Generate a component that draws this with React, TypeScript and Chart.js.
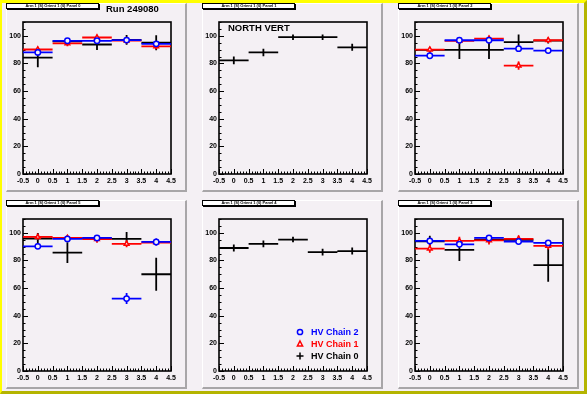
import React, { useEffect, useRef } from "react";
import { Chart, registerables } from "chart.js";
Chart.register(...registerables);

// ---------- data ----------
const BIN_CENTERS = [0, 1, 2, 3, 4];
const BIN_HALF_WIDTH = 0.5;
const X_TICKS = [-0.5, 0, 0.5, 1, 1.5, 2, 2.5, 3, 3.5, 4, 4.5];
const X_TICK_LABELS = ["-0.5", "0", "0.5", "1", "1.5", "2", "2.5", "3", "3.5", "4", "4.5"];
const X_MINOR_STEP = 0.1;
const Y_TICKS = [0, 20, 40, 60, 80, 100];
const Y_TICK_LABELS = ["0", "20", "40", "60", "80", "100"];
const Y_MINOR_STEP = 5;
const Y_MAX = 110;

const CHAIN_LABELS = ["HV Chain 2", "HV Chain 1", "HV Chain 0"];
const CHAIN_COLORS = ["#0000ff", "#ff0000", "#000000"];
const CHAIN_MARKERS = ["circle", "triangle", "none"];

const PANEL_TITLES = [
  "Arm 1 (S) Orient 1 (0) Panel 0",
  "Arm 1 (S) Orient 1 (0) Panel 1",
  "Arm 1 (S) Orient 1 (0) Panel 2",
  "Arm 1 (S) Orient 1 (0) Panel 5",
  "Arm 1 (S) Orient 1 (0) Panel 4",
  "Arm 1 (S) Orient 1 (0) Panel 3",
];

// Panel 0
const p0Chain2 = [88.0, 96.4, 96.4, 96.9, 94.2];
const p0Chain2Err = [2, 2, 2, 2, 2];
const p0Chain1 = [90.1, 94.5, 98.8, 96.5, 92.3];
const p0Chain1Err = [2, 2, 2, 2, 2];
const p0Chain0 = [84.2, 96.0, 93.7, 97.1, 95.0];
const p0Chain0Err = [7, 2, 4, 3.5, 5.5];

// Panel 1
const p1Chain0 = [82.2, 88.0, 99.0, 99.0, 91.7];
const p1Chain0Err = [2.8, 2.7, 2, 2, 2.5];

// Panel 2
const p2Chain2 = [85.6, 96.8, 96.8, 90.7, 89.3];
const p2Chain2Err = [2, 2, 2, 2, 2];
const p2Chain1 = [90.0, 96.3, 98.0, 78.5, 96.8];
const p2Chain1Err = [2, 2, 2, 3, 2];
const p2Chain0 = [89.8, 89.8, 89.8, 95.4, 96.5];
const p2Chain0Err = [2, 6.5, 6.5, 5.5, 2];

// Panel 5
const p5Chain2 = [90.2, 95.6, 96.3, 52.4, 93.4];
const p5Chain2Err = [2, 2, 2, 4, 2.5];
const p5Chain1 = [97.0, 96.3, 95.4, 92.0, 93.0];
const p5Chain1Err = [2, 2, 2.5, 2.5, 2];
const p5Chain0 = [95.9, 85.6, 96.0, 95.6, 70.0];
const p5Chain0Err = [4, 7.5, 2, 5, 12];

// Panel 4
const p4Chain0 = [89.0, 92.0, 95.1, 86.0, 86.8];
const p4Chain0Err = [2.5, 2.5, 2, 2.5, 2.5];

// Panel 3
const p3Chain2 = [94.1, 91.7, 96.3, 93.7, 92.7];
const p3Chain2Err = [2, 2, 2, 2, 2];
const p3Chain1 = [88.5, 94.1, 94.6, 95.6, 90.5];
const p3Chain1Err = [3, 3, 3, 2.5, 2.5];
const p3Chain0 = [93.9, 87.6, 95.0, 95.0, 76.6];
const p3Chain0Err = [4, 8, 2, 2, 12];

// ---------- style ----------
const BG = "#f4f0f4";
const FONT = "'Liberation Sans', Arial, sans-serif";
const PAD_W = 181;
const PAD_H = 189;
const AREA_LEFT = 17;
const AREA_TOP = 19;
const AREA_RIGHT = 165;
const AREA_BOTTOM = 171;

type Series = { chain: number; values: number[]; errs: number[] };

function drawMarker(ctx: CanvasRenderingContext2D, kind: string, x: number, y: number, color: string) {
  ctx.save();
  ctx.strokeStyle = color;
  ctx.fillStyle = BG;
  ctx.lineWidth = 1.5;
  if (kind === "circle") {
    ctx.beginPath();
    ctx.arc(x, y, 2.6, 0, Math.PI * 2);
    ctx.fill();
    ctx.stroke();
  } else if (kind === "triangle") {
    ctx.beginPath();
    ctx.moveTo(x, y - 3);
    ctx.lineTo(x + 2.6, y + 2);
    ctx.lineTo(x - 2.6, y + 2);
    ctx.closePath();
    ctx.fill();
    ctx.stroke();
  } else {
    ctx.beginPath();
    ctx.moveTo(x - 3.5, y);
    ctx.lineTo(x + 3.5, y);
    ctx.moveTo(x, y - 3.5);
    ctx.lineTo(x, y + 3.5);
    ctx.stroke();
  }
  ctx.restore();
}

const rootPlugin = {
  id: "rootStyle",
  beforeDatasetsDraw(chart: any) {
    const { ctx, chartArea: a, scales } = chart;
    const xs = scales.x;
    const ys = scales.y;
    ctx.save();
    ctx.strokeStyle = "#000";
    ctx.lineWidth = 1;
    ctx.beginPath();
    for (const v of X_TICKS) {
      const px = Math.round(xs.getPixelForValue(v)) + 0.5;
      ctx.moveTo(px, a.bottom);
      ctx.lineTo(px, a.bottom - 5);
    }
    for (let v = X_TICKS[0]; v <= X_TICKS[X_TICKS.length - 1] + 1e-9; v += X_MINOR_STEP) {
      const px = Math.round(xs.getPixelForValue(v)) + 0.5;
      ctx.moveTo(px, a.bottom);
      ctx.lineTo(px, a.bottom - 2.5);
    }
    for (const v of Y_TICKS) {
      const py = Math.round(ys.getPixelForValue(v)) + 0.5;
      ctx.moveTo(a.left, py);
      ctx.lineTo(a.left + 5, py);
    }
    for (let v = 0; v <= Y_MAX; v += Y_MINOR_STEP) {
      const py = Math.round(ys.getPixelForValue(v)) + 0.5;
      ctx.moveTo(a.left, py);
      ctx.lineTo(a.left + 2.5, py);
    }
    ctx.stroke();
    ctx.lineWidth = 1.6;
    ctx.strokeRect(a.left, a.top, a.right - a.left, a.bottom - a.top);
    ctx.restore();
  },
  beforeDatasetDraw(chart: any, args: any) {
    const ds = chart.data.datasets[args.index];
    const { ctx, chartArea: a, scales } = chart;
    const xs = scales.x;
    const ys = scales.y;
    ctx.save();
    ctx.beginPath();
    ctx.rect(a.left, a.top, a.right - a.left, a.bottom - a.top);
    ctx.clip();
    ctx.strokeStyle = ds.borderColor;
    ctx.lineWidth = 1.8;
    ctx.beginPath();
    ds.data.forEach((p: any, i: number) => {
      const x0 = xs.getPixelForValue(p.x - BIN_HALF_WIDTH);
      const x1 = xs.getPixelForValue(p.x + BIN_HALF_WIDTH);
      const py = ys.getPixelForValue(p.y);
      const px = xs.getPixelForValue(p.x);
      const e = ds.yErr[i];
      ctx.moveTo(x0, py);
      ctx.lineTo(x1, py);
      ctx.moveTo(px, ys.getPixelForValue(p.y - e));
      ctx.lineTo(px, ys.getPixelForValue(p.y + e));
    });
    ctx.stroke();
    ctx.restore();
  },
  afterDraw(chart: any, _args: any, opts: any) {
    const { ctx, chartArea: a } = chart;
    ctx.save();
    // title box
    ctx.fillStyle = "#000";
    ctx.fillRect(1, 1, 93, 6);
    ctx.fillStyle = "#ffffff";
    ctx.fillRect(0, 0, 92, 5);
    ctx.strokeStyle = "#000";
    ctx.lineWidth = 1;
    ctx.strokeRect(0.5, 0.5, 92, 5);
    ctx.fillStyle = "#000";
    ctx.font = `bold 4px ${FONT}`;
    ctx.textAlign = "center";
    ctx.textBaseline = "middle";
    ctx.fillText(opts.title, 47, 3.2);
    if (opts.note) {
      ctx.font = `bold 9.5px ${FONT}`;
      ctx.textAlign = "left";
      ctx.fillText(opts.note, opts.noteX, opts.noteY);
    }
    if (opts.legend) {
      chart.data.datasets.forEach((ds: any, i: number) => {
        const y = a.top + 113 + i * 12;
        drawMarker(ctx, ds.marker, a.left + 81, y, ds.borderColor);
        ctx.fillStyle = ds.borderColor;
        ctx.font = `bold 9px ${FONT}`;
        ctx.textAlign = "left";
        ctx.textBaseline = "middle";
        ctx.fillText(ds.label, a.left + 92, y + 0.5);
      });
    }
    ctx.restore();
  },
};

function Pad(props: {
  left: number;
  top: number;
  title: string;
  series: Series[];
  note?: string;
  noteX?: number;
  noteY?: number;
  legend?: boolean;
}) {
  const ref = useRef<HTMLCanvasElement>(null);
  useEffect(() => {
    const datasets = props.series.map((s) => ({
      label: CHAIN_LABELS[s.chain],
      data: BIN_CENTERS.map((x, i) => ({ x, y: s.values[i] })),
      yErr: s.errs,
      marker: CHAIN_MARKERS[s.chain],
      borderColor: CHAIN_COLORS[s.chain],
      backgroundColor: BG,
      pointStyle: CHAIN_MARKERS[s.chain] === "none" ? "circle" : CHAIN_MARKERS[s.chain],
      pointRadius: CHAIN_MARKERS[s.chain] === "none" ? 0 : 2.7,
      pointHoverRadius: 0,
      pointBorderWidth: 1.5,
      pointBackgroundColor: BG,
      pointBorderColor: CHAIN_COLORS[s.chain],
      showLine: false,
    }));
    const chart = new Chart(ref.current as HTMLCanvasElement, {
      type: "scatter",
      data: { datasets: datasets as any },
      options: {
        animation: false,
        responsive: false,
        events: [],
        layout: { padding: { left: 0, top: AREA_TOP, right: PAD_W - AREA_RIGHT, bottom: 0 } },
        plugins: {
          legend: { display: false },
          tooltip: { enabled: false },
          rootStyle: {
            title: props.title,
            note: props.note,
            noteX: props.noteX,
            noteY: props.noteY,
            legend: props.legend,
          },
        } as any,
        scales: {
          x: {
            type: "linear",
            min: X_TICKS[0],
            max: X_TICKS[X_TICKS.length - 1],
            grid: { display: false, drawTicks: false },
            border: { display: false },
            afterBuildTicks: (s: any) => {
              s.ticks = X_TICKS.map((v) => ({ value: v }));
            },
            afterFit: (s: any) => {
              s.height = PAD_H - AREA_BOTTOM;
            },
            ticks: {
              autoSkip: false,
              maxRotation: 0,
              minRotation: 0,
              padding: 3,
              color: "#000",
              font: { family: FONT, size: 7, weight: "bold" },
              callback: (_v: any, i: number) => X_TICK_LABELS[i],
            },
          },
          y: {
            type: "linear",
            min: 0,
            max: Y_MAX,
            grid: { display: false, drawTicks: false },
            border: { display: false },
            afterBuildTicks: (s: any) => {
              s.ticks = Y_TICKS.map((v) => ({ value: v }));
            },
            afterFit: (s: any) => {
              s.width = AREA_LEFT;
            },
            ticks: {
              autoSkip: false,
              padding: 2,
              color: "#000",
              font: { family: FONT, size: 7, weight: "bold" },
              callback: (_v: any, i: number) => Y_TICK_LABELS[i],
            },
          },
        },
      },
      plugins: [rootPlugin as any],
    });
    return () => chart.destroy();
  }, []);
  return (
    <>
      <div
        style={{
          position: "absolute",
          left: props.left,
          top: props.top,
          width: PAD_W,
          height: PAD_H,
          boxSizing: "border-box",
          background: BG,
          borderTop: "1px solid #ffffff",
          borderLeft: "1px solid #ffffff",
          borderRight: "2px solid #a8a6a8",
          borderBottom: "2px solid #a8a6a8",
        }}
      />
      <canvas
        ref={ref}
        width={PAD_W}
        height={PAD_H}
        style={{ position: "absolute", left: props.left, top: props.top, width: PAD_W, height: PAD_H }}
      />
    </>
  );
}

export default function App() {
  return (
    <div
      style={{
        position: "absolute",
        left: 0,
        top: 0,
        width: 587,
        height: 394,
        boxSizing: "border-box",
        background: BG,
        borderTop: "3px solid #ffff00",
        borderLeft: "2px solid #ffff00",
        borderRight: "3px solid #b4b400",
        borderBottom: "3px solid #b4b400",
        overflow: "hidden",
      }}
    >
      <div style={{ position: "absolute", left: -2, top: -3 }}>
        <Pad
          left={6}
          top={3}
          title={PANEL_TITLES[0]}
          note="Run 249080"
          noteX={100}
          noteY={6.5}
          series={[
            { chain: 0, values: p0Chain2, errs: p0Chain2Err },
            { chain: 1, values: p0Chain1, errs: p0Chain1Err },
            { chain: 2, values: p0Chain0, errs: p0Chain0Err },
          ]}
        />
        <Pad
          left={202}
          top={3}
          title={PANEL_TITLES[1]}
          note="NORTH VERT"
          noteX={26}
          noteY={25}
          series={[{ chain: 2, values: p1Chain0, errs: p1Chain0Err }]}
        />
        <Pad
          left={398}
          top={3}
          title={PANEL_TITLES[2]}
          series={[
            { chain: 0, values: p2Chain2, errs: p2Chain2Err },
            { chain: 1, values: p2Chain1, errs: p2Chain1Err },
            { chain: 2, values: p2Chain0, errs: p2Chain0Err },
          ]}
        />
        <Pad
          left={6}
          top={200}
          title={PANEL_TITLES[3]}
          series={[
            { chain: 0, values: p5Chain2, errs: p5Chain2Err },
            { chain: 1, values: p5Chain1, errs: p5Chain1Err },
            { chain: 2, values: p5Chain0, errs: p5Chain0Err },
          ]}
        />
        <Pad
          left={202}
          top={200}
          title={PANEL_TITLES[4]}
          legend
          series={[
            { chain: 0, values: [] as number[], errs: [] as number[] },
            { chain: 1, values: [] as number[], errs: [] as number[] },
            { chain: 2, values: p4Chain0, errs: p4Chain0Err },
          ]}
        />
        <Pad
          left={398}
          top={200}
          title={PANEL_TITLES[5]}
          series={[
            { chain: 0, values: p3Chain2, errs: p3Chain2Err },
            { chain: 1, values: p3Chain1, errs: p3Chain1Err },
            { chain: 2, values: p3Chain0, errs: p3Chain0Err },
          ]}
        />
      </div>
    </div>
  );
}
